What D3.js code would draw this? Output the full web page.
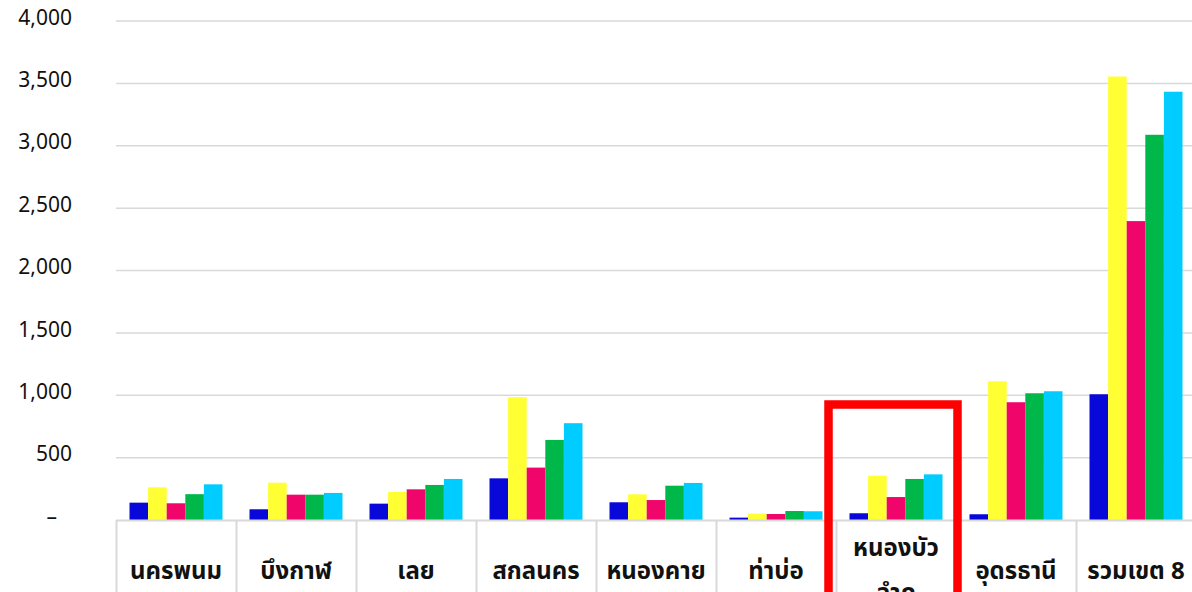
<!DOCTYPE html>
<html>
<head>
  <meta charset="utf-8">
  <title>Bar chart</title>
  <style>
    body { margin: 0; background: #fff; }
  </style>
</head>
<body>
<script src="https://cdnjs.cloudflare.com/ajax/libs/d3/7.8.5/d3.min.js"></script>
<script>
var w = 1192, h = 592;

// categories (provinces), last one is the zone total
var categories = ["นครพนม", "บึงกาฬ", "เลย", "สกลนคร", "หนองคาย", "ท่าบ่อ",
                  "หนองบัว\u200Bลำภู", "อุดรธานี", "รวมเขต 8"];

// five series
var s1 = [139, 86, 131, 334, 142, 19, 54, 46, 1008];
var s2 = [262, 299, 225, 984, 206, 51, 355, 1112, 3555];
var s3 = [134, 203, 246, 420, 160, 48, 184, 944, 2396];
var s4 = [207, 203, 281, 642, 275, 72, 329, 1016, 3088];
var s5 = [286, 217, 329, 776, 297, 70, 366, 1032, 3433];
var seriesNames = ["s1", "s2", "s3", "s4", "s5"];
var colors = ["#0808d8", "#ffff33", "#f0066a", "#00b84a", "#00ccff"];

var yTicks = [0, 500, 1000, 1500, 2000, 2500, 3000, 3500, 4000];
var highlight = "หนองบัว\u200Bลำภู"; // category boxed in red

var allSeries = [s1, s2, s3, s4, s5];

var svg = d3.select("body").append("svg")
  .attr("width", w)
  .attr("height", h);

var x0 = d3.scaleBand().domain(categories).range([116, 1196]);
var x1 = d3.scaleBand().domain(seriesNames).range([13.5, 106.5]);
var y = d3.scaleLinear().domain([0, 4000]).range([520, 21]);

// gridlines
svg.selectAll("line.grid")
  .data(yTicks.slice(1))
  .enter().append("line")
  .attr("class", "grid")
  .attr("x1", 116).attr("x2", w)
  .attr("y1", function(d) { return y(d); })
  .attr("y2", function(d) { return y(d); })
  .attr("stroke", "#d9d9d9")
  .attr("stroke-width", 1.5);

// y tick labels, zero shown as a dash
svg.selectAll("text.ytick")
  .data(yTicks)
  .enter().append("text")
  .attr("class", "ytick")
  .attr("x", function(d) { return d === 0 ? 57 : 72; })
  .attr("y", function(d) { return y(d) - 2; })
  .attr("text-anchor", "end")
  .attr("dominant-baseline", "middle")
  .attr("font-family", "'Noto Sans', 'Open Sans', sans-serif")
  .attr("font-size", 21)
  .attr("fill", "#111")
  .text(function(d) { return d === 0 ? "–" : d3.format(",")(d); });

// bars
var groups = svg.selectAll("g.cat")
  .data(categories)
  .enter().append("g")
  .attr("class", "cat")
  .attr("transform", function(d) { return "translate(" + x0(d) + ",0)"; });

groups.selectAll("rect")
  .data(function(d, i) {
    return allSeries.map(function(s, k) { return { key: seriesNames[k], value: s[i], k: k }; });
  })
  .enter().append("rect")
  .attr("x", function(d) { return x1(d.key); })
  .attr("y", function(d) { return y(d.value); })
  .attr("width", x1.bandwidth())
  .attr("height", function(d) { return y(0) - y(d.value); })
  .attr("fill", function(d) { return colors[d.k]; });

// category axis: baseline and separators
svg.append("line")
  .attr("x1", 116).attr("x2", w)
  .attr("y1", 520.5).attr("y2", 520.5)
  .attr("stroke", "#d9d9d9")
  .attr("stroke-width", 2);

svg.selectAll("line.sep")
  .data(categories)
  .enter().append("line")
  .attr("class", "sep")
  .attr("x1", function(d) { return x0(d) + 0.5; })
  .attr("x2", function(d) { return x0(d) + 0.5; })
  .attr("y1", 520).attr("y2", h)
  .attr("stroke", "#d9d9d9")
  .attr("stroke-width", 2);

// category labels (long names wrap at the zero-width space)
var lineH = 45;
svg.selectAll("text.cat")
  .data(categories)
  .enter().append("text")
  .attr("class", "cat")
  .attr("text-anchor", "middle")
  .attr("font-family", "'Noto Sans Thai', 'Noto Sans', Lato, sans-serif")
  .attr("font-size", 24)
  .attr("font-weight", "bold")
  .attr("fill", "#111")
  .each(function(d) {
    var lines = d.split("\u200B");
    var t = d3.select(this);
    var cx = x0(d) + x0.bandwidth() / 2;
    var top = 572 - (lines.length - 1) * lineH / 2;
    lines.forEach(function(l, i) {
      t.append("tspan")
        .attr("x", cx)
        .attr("y", top + i * lineH)
        .attr("dominant-baseline", "middle")
        .text(l);
    });
  });

// red highlight box
svg.append("rect")
  .attr("x", x0(highlight) - 7.5)
  .attr("y", 404.5)
  .attr("width", x0.bandwidth() + 9)
  .attr("height", 220)
  .attr("fill", "none")
  .attr("stroke", "#ff0000")
  .attr("stroke-width", 8.5);
</script>
</body>
</html>
